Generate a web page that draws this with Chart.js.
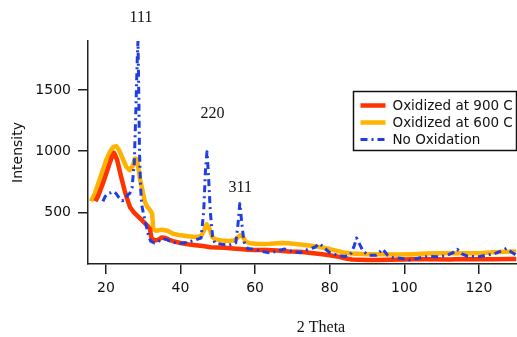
<!DOCTYPE html>
<html>
<head>
  <title>XRD Patterns</title>
  <script src="https://cdn.jsdelivr.net/npm/chart.js"></script>
  <style>
    body {
      margin: 0;
      background: #fff;
    }
    #wrap {
      width: 517px;
      height: 337px;
      position: relative;
    }
  </style>
</head>
<body>
  <div id="wrap"><canvas id="xrdChart"></canvas></div>

  <script>
    // series: 2 theta (x) and intensity (y)
    const ox900X = [17.2, 18, 19, 20, 21, 21.7, 22.2, 23, 24, 25, 25.8, 26.5, 27.5, 28.5, 29.5, 30.5, 31.3, 31.8, 32.2, 33, 34, 35, 36, 37, 38, 40, 42, 44, 46, 48, 50, 52, 54, 56, 58, 60, 63, 66, 69, 72, 75, 78, 80, 82, 84, 86, 88, 90, 93, 96, 100, 104, 108, 112, 116, 120, 124, 128, 130];
    const ox900Y = [590, 640, 720, 810, 900, 960, 985, 930, 800, 680, 600, 540, 500, 470, 440, 410, 385, 365, 290, 270, 275, 295, 290, 275, 265, 250, 240, 232, 225, 215, 212, 210, 205, 200, 195, 192, 192, 188, 180, 178, 168, 158, 150, 140, 125, 115, 112, 110, 110, 112, 115, 118, 116, 115, 118, 117, 116, 118, 118];

    const ox600X = [16, 17, 18, 19, 20, 21, 22, 22.8, 23.5, 24.5, 25.5, 26.4, 27.2, 27.8, 28.3, 28.8, 29.2, 29.8, 30.4, 31, 31.8, 32.4, 32.7, 33.5, 35, 36.5, 38, 40, 42, 44, 45.5, 46.3, 47, 47.7, 48.5, 49.2, 51, 53, 54.5, 55.5, 56.1, 56.8, 57.5, 58.5, 61, 64, 67, 69, 72, 75, 77, 80, 82, 84, 86, 90, 94, 98, 102, 106, 110, 114, 118, 121, 124, 127, 130];
    const ox600Y = [590, 650, 740, 830, 920, 990, 1035, 1040, 1010, 940, 870, 845, 880, 940, 935, 840, 760, 680, 590, 550, 520, 490, 360, 350, 358, 350, 325, 312, 305, 298, 305, 350, 402, 370, 300, 280, 270, 265, 272, 300, 314, 295, 260, 248, 242, 244, 250, 248, 238, 228, 218, 200, 185, 170, 163, 158, 157, 155, 158, 163, 166, 165, 166, 168, 175, 178, 180];

    const noOxX = [19.2, 19.8, 20.5, 21.3, 22, 22.7, 23.5, 24.3, 25, 25.8, 26.4, 27, 27.6, 28, 28.4, 28.6, 28.8, 29, 29.3, 29.6, 30.2, 30.9, 31.5, 32, 33, 34, 35.3, 36.5, 38, 39.8, 42, 44, 45.5, 46.2, 46.7, 47.1, 47.5, 48, 48.6, 49.2, 51, 53, 54.8, 55.4, 55.9, 56.4, 57, 58, 60, 62, 64, 66, 68, 70, 72, 74, 76, 77.3, 78.5, 80, 82, 84, 85.5, 86.5, 87.2, 88, 89, 90.5, 92.5, 94.2, 95.5, 97, 99, 101.4, 103, 105, 107, 109.4, 111, 113, 114.2, 115.5, 117, 120, 122, 124, 126, 127.4, 128.5, 130];
    const noOxY = [590, 630, 655, 660, 670, 655, 620, 595, 600, 640, 655, 700, 900, 1300, 1750, 1900, 1500, 1000, 700, 560, 470, 380, 300, 265, 250, 262, 285, 275, 255, 245, 255, 275, 290, 500, 850, 995, 800, 500, 300, 250, 240, 232, 250, 400, 573, 420, 260, 205, 195, 180, 168, 185, 200, 180, 170, 195, 215, 245, 210, 170, 150, 140, 150, 220, 290, 240, 180, 150, 150, 200, 150, 130, 125, 110, 120, 135, 140, 137, 145, 170, 198, 160, 140, 137, 150, 160, 185, 206, 180, 150];

    const seriesNames = ['Oxidized at 900 C', 'Oxidized at 600 C', 'No Oxidation'];
    const xTicks = [20, 40, 60, 80, 100, 120];
    const yTicks = [500, 1000, 1500];

    // peak labels, placed in data coordinates
    const peakText = ['111', '220', '311'];
    const peakX = [29.4, 48.6, 56.0];
    const peakY = [2087, 1303, 703];

    function toPoints(xs, ys) {
      return xs.map((x, i) => ({ x: x, y: ys[i] }));
    }

    const textPlugin = {
      id: 'textPlugin',
      afterDraw(chart) {
        const ctx = chart.ctx;
        const xs = chart.scales.x;
        const ys = chart.scales.y;
        const area = chart.chartArea;
        ctx.save();
        ctx.fillStyle = '#111';
        ctx.font = '16px "Liberation Serif", "Times New Roman", serif';
        ctx.textAlign = 'center';
        ctx.textBaseline = 'middle';
        for (let i = 0; i < peakText.length; i++) {
          ctx.fillText(peakText[i], xs.getPixelForValue(peakX[i]), ys.getPixelForValue(peakY[i]));
        }
        // x axis title sits a bit right of centre in the original
        ctx.fillText('2 Theta', area.left + 233, area.bottom + 64);

        // legend box
        const bx = 353.5, by = 91.5, bw = 163, bh = 59;
        ctx.fillStyle = '#fff';
        ctx.fillRect(bx, by, bw, bh);
        ctx.strokeStyle = '#111';
        ctx.lineWidth = 1.5;
        ctx.strokeRect(bx, by, bw, bh);
        ctx.font = '13.5px "DejaVu Sans", sans-serif';
        ctx.textAlign = 'left';
        chart.data.datasets.forEach((ds, i) => {
          const y = by + 14 + i * 17;
          ctx.beginPath();
          ctx.strokeStyle = ds.borderColor;
          ctx.lineWidth = ds.borderWidth;
          ctx.setLineDash(ds.borderDash || []);
          ctx.moveTo(bx + 7, y);
          ctx.lineTo(bx + 32, y);
          ctx.stroke();
          ctx.setLineDash([]);
          ctx.fillStyle = '#111';
          ctx.fillText(ds.label, bx + 39, y + 1);
        });
        ctx.restore();
      }
    };

    const tickFont = { family: '"DejaVu Sans", sans-serif', size: 14 };

    new Chart(document.getElementById('xrdChart'), {
      type: 'line',
      data: {
        datasets: [{
          label: seriesNames[0],
          data: toPoints(ox900X, ox900Y),
          borderColor: '#ff3300',
          borderWidth: 4.5,
          order: 1
        }, {
          label: seriesNames[1],
          data: toPoints(ox600X, ox600Y),
          borderColor: '#ffb300',
          borderWidth: 4.5,
          order: 2
        }, {
          label: seriesNames[2],
          data: toPoints(noOxX, noOxY),
          borderColor: '#1f3de0',
          borderWidth: 3,
          borderDash: [7, 4, 2, 4],
          order: 0
        }]
      },
      options: {
        responsive: true,
        maintainAspectRatio: false,
        animation: false,
        layout: { padding: { top: 41, right: 0, left: 0, bottom: 0 } },
        elements: {
          point: { radius: 0 },
          line: { tension: 0, borderJoinStyle: 'round', borderCapStyle: 'butt' }
        },
        plugins: {
          legend: { display: false },
          tooltip: { enabled: false }
        },
        scales: {
          x: {
            type: 'linear',
            min: 15.2,
            max: 130.2,
            afterBuildTicks: (s) => { s.ticks = xTicks.map(v => ({ value: v })); },
            afterFit: (s) => { s.height = 73; },
            grid: { drawOnChartArea: false, tickLength: 10, color: '#222', lineWidth: 1.5 },
            border: { color: '#222', width: 1.5 },
            ticks: { font: tickFont, color: '#111', padding: 6, maxRotation: 0, callback: (v) => String(v) }
          },
          y: {
            min: 78,
            max: 1900,
            afterBuildTicks: (s) => { s.ticks = yTicks.map(v => ({ value: v })); },
            afterFit: (s) => { s.width = 88; },
            grid: { drawOnChartArea: false, tickLength: 10, color: '#222', lineWidth: 1.5 },
            border: { color: '#222', width: 1.5 },
            ticks: { font: tickFont, color: '#111', padding: 7, callback: (v) => String(v) },
            title: {
              display: true,
              text: 'Intensity',
              font: { family: '"DejaVu Sans", sans-serif', size: 14 },
              color: '#111',
              padding: { top: 10, bottom: 0 }
            }
          }
        }
      },
      plugins: [textPlugin]
    });
  </script>
</body>
</html>
